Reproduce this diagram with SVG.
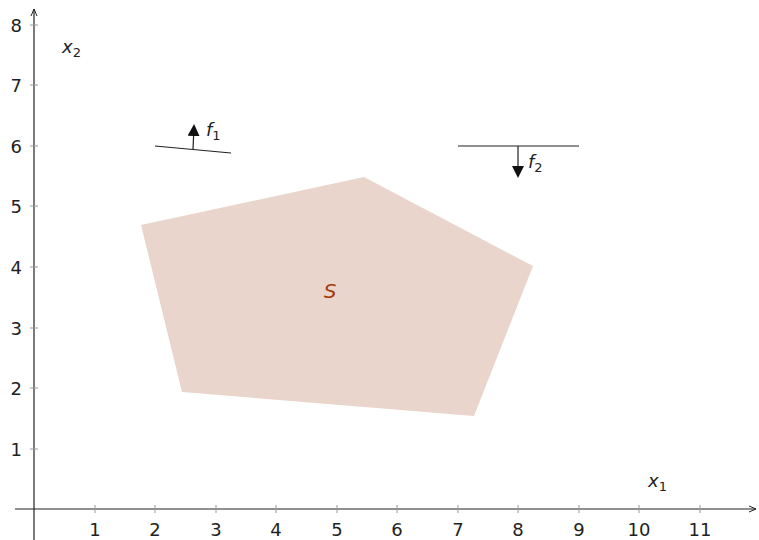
<svg xmlns="http://www.w3.org/2000/svg" width="759" height="540" viewBox="0 0 759 540">
<style>
.t{font-family:"DejaVu Sans",sans-serif;font-size:18px;fill:#222}
.ax{stroke:#222;stroke-width:1.2;fill:none}
.tk{stroke:#999;stroke-width:1}
.lbl{font-family:"DejaVu Sans",sans-serif;font-size:18px;font-style:italic;fill:#222}
.sub{font-size:13px;font-style:normal}
</style>
<defs>
<marker id="ah" markerWidth="8" markerHeight="8" refX="7" refY="4" orient="auto" markerUnits="userSpaceOnUse">
<path d="M0,1 L7,4 L0,7" fill="none" stroke="#222" stroke-width="1"/>
</marker>
<marker id="tri" markerWidth="12" markerHeight="14" refX="10" refY="6" orient="auto" markerUnits="userSpaceOnUse">
<path d="M0,0 L12,6 L0,12 Z" fill="#111"/>
</marker>
</defs>
<g id="region">
<polygon points="141,225 364,177 533,266 474,416 182,392" fill="#e9d5cc"/>
<text x="330" y="298" text-anchor="middle" style="font-family:'DejaVu Sans',sans-serif;font-size:20px;font-style:italic;fill:#a33a0a">S</text>
</g>
<g id="axes">
<line class="ax" x1="15" y1="509" x2="756" y2="509" marker-end="url(#ah)"/>
<line class="ax" x1="34" y1="540" x2="34" y2="9" marker-end="url(#ah)"/>
<g class="tk">
<line x1="95" y1="505" x2="95" y2="513"/><line x1="155" y1="505" x2="155" y2="513"/><line x1="216" y1="505" x2="216" y2="513"/><line x1="276" y1="505" x2="276" y2="513"/><line x1="337" y1="505" x2="337" y2="513"/><line x1="397" y1="505" x2="397" y2="513"/><line x1="458" y1="505" x2="458" y2="513"/><line x1="518" y1="505" x2="518" y2="513"/><line x1="579" y1="505" x2="579" y2="513"/><line x1="639" y1="505" x2="639" y2="513"/><line x1="700" y1="505" x2="700" y2="513"/>
<line x1="30" y1="449" x2="38" y2="449"/><line x1="30" y1="388" x2="38" y2="388"/><line x1="30" y1="328" x2="38" y2="328"/><line x1="30" y1="267" x2="38" y2="267"/><line x1="30" y1="206" x2="38" y2="206"/><line x1="30" y1="146" x2="38" y2="146"/><line x1="30" y1="85" x2="38" y2="85"/><line x1="30" y1="25" x2="38" y2="25"/>
</g>
<g class="t" text-anchor="middle">
<text x="95" y="536">1</text><text x="155" y="536">2</text><text x="216" y="536">3</text><text x="276" y="536">4</text><text x="337" y="536">5</text><text x="397" y="536">6</text><text x="458" y="536">7</text><text x="518" y="536">8</text><text x="579" y="536">9</text><text x="639" y="536">10</text><text x="700" y="536">11</text>
</g>
<g class="t" text-anchor="end">
<text x="22" y="456">1</text><text x="22" y="395">2</text><text x="22" y="335">3</text><text x="22" y="274">4</text><text x="22" y="213">5</text><text x="22" y="153">6</text><text x="22" y="92">7</text><text x="22" y="32">8</text>
</g>
<text class="lbl" x="648" y="487">x<tspan class="sub" dy="4">1</tspan></text>
<text class="lbl" x="62" y="53">x<tspan class="sub" dy="4">2</tspan></text>
</g>
<g id="f1">
<line x1="155" y1="146" x2="231" y2="153" stroke="#222" stroke-width="1.2"/>
<line x1="193" y1="149.5" x2="194" y2="126" stroke="#222" stroke-width="1.2" marker-end="url(#tri)"/>
<text class="lbl" x="206" y="136">f<tspan class="sub" dy="4">1</tspan></text>
</g>
<g id="f2">
<line x1="458" y1="146" x2="579" y2="146" stroke="#222" stroke-width="1.2"/>
<line x1="518" y1="146" x2="518" y2="176" stroke="#222" stroke-width="1.2" marker-end="url(#tri)"/>
<text class="lbl" x="528" y="168">f<tspan class="sub" dy="4">2</tspan></text>
</g>
</svg>
